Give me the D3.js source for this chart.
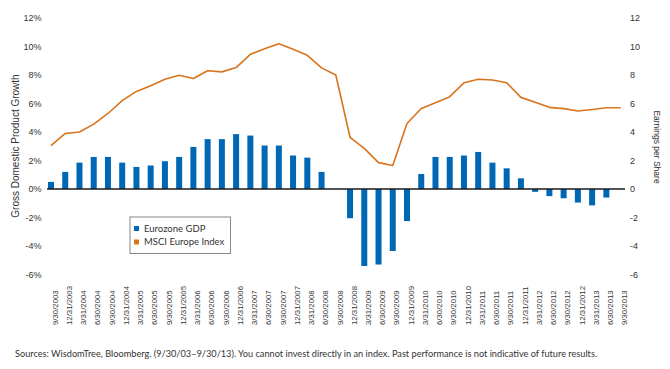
<!DOCTYPE html>
<html>
<head>
<meta charset="utf-8">
<script src="https://cdn.jsdelivr.net/npm/d3@7"></script>
<style>
  body { margin: 0; background: #fff; }
  svg { display: block; }
  text { fill: #333; }
</style>
</head>
<body>
<script>
(function(){

//quarter-end dates along the bottom
var quarters = ["9/30/2003","12/31/2003","3/31/2004","6/30/2004","9/30/2004","12/31/2004",
    "3/31/2005","6/30/2005","9/30/2005","12/31/2005","3/31/2006","6/30/2006","9/30/2006",
    "12/31/2006","3/31/2007","6/30/2007","9/30/2007","12/31/2007","3/31/2008","6/30/2008",
    "9/30/2008","12/31/2008","3/31/2009","6/30/2009","9/30/2009","12/31/2009","3/31/2010",
    "6/30/2010","9/30/2010","12/31/2010","3/31/2011","6/30/2011","9/30/2011","12/31/2011",
    "3/31/2012","6/30/2012","9/30/2012","12/31/2012","3/31/2013","6/30/2013","9/30/2013"];

//eurozone gdp growth, % (null = no bar)
var gdpGrowth = [0.5, 1.2, 1.85, 2.25, 2.25, 1.85, 1.55, 1.65, 1.95, 2.25, 2.95, 3.5, 3.5,
    3.85, 3.75, 3.05, 3.05, 2.35, 2.2, 1.2, null, -2.05, -5.4, -5.3, -4.35, -2.25, 1.05,
    2.25, 2.25, 2.35, 2.6, 1.85, 1.45, 0.75, -0.2, -0.5, -0.65, -0.95, -1.15, -0.6, null];

//msci europe earnings per share
var epsValues = [3.05, 3.9, 4.0, 4.55, 5.3, 6.2, 6.85, 7.25, 7.7, 7.98, 7.75, 8.3, 8.22,
    8.52, 9.45, 9.85, 10.2, 9.8, 9.38, 8.5, 8.0, 3.63, 2.85, 1.85, 1.65, 4.6, 5.65, 6.05,
    6.48, 7.45, 7.7, 7.65, 7.45, 6.43, 6.08, 5.73, 5.64, 5.47, 5.58, 5.7, 5.7];

var leftTicks = [-6, -4, -2, 0, 2, 4, 6, 8, 10, 12];
var rightTicks = [-6, -4, -2, 0, 2, 4, 6, 8, 10, 12];

var legendItems = ["Eurozone GDP", "MSCI Europe Index"];
var sourceNote = "Sources: WisdomTree, Bloomberg. (9/30/03\u20139/30/13). You cannot invest directly in an index. Past performance is not indicative of future results.";

var blue = "#0067b4",
    orange = "#d8741c";

window.onload = drawChart();

function drawChart(){
    var width = 670,
        height = 369;

    var svg = d3.select("body")
        .append("svg")
        .attr("width", width)
        .attr("height", height);

    var x = d3.scalePoint()
        .domain(quarters)
        .range([51, 620.6]);

    var yLeft = d3.scaleLinear()
        .domain([-6, 12])
        .range([274.5, 18]);

    //same extent on the right, so one scale would do, but keep them apart
    var yRight = d3.scaleLinear()
        .domain([-6, 12])
        .range([274.5, 18]);

    //bars
    var barW = 6;
    svg.selectAll(".bar")
        .data(quarters.map(function(q, i){ return {q: q, v: gdpGrowth[i]}; })
            .filter(function(d){ return d.v !== null; }))
        .enter()
        .append("rect")
        .attr("class", "bar")
        .attr("x", function(d){ return x(d.q) - barW / 2; })
        .attr("y", function(d){ return yLeft(Math.max(0, d.v)); })
        .attr("width", barW)
        .attr("height", function(d){ return Math.abs(yLeft(d.v) - yLeft(0)); })
        .attr("fill", blue);

    //zero line
    svg.append("line")
        .attr("x1", 47)
        .attr("x2", 625)
        .attr("y1", yLeft(0))
        .attr("y2", yLeft(0))
        .attr("stroke", "#1a1a1a")
        .attr("stroke-width", 1.5);

    //eps line
    var line = d3.line()
        .x(function(d, i){ return x(quarters[i]); })
        .y(function(d){ return yRight(d); });

    svg.append("path")
        .datum(epsValues)
        .attr("d", line)
        .attr("fill", "none")
        .attr("stroke", orange)
        .attr("stroke-width", 1.6)
        .attr("stroke-linejoin", "round");

    //left axis labels
    svg.selectAll(".ltick")
        .data(leftTicks)
        .enter()
        .append("text")
        .attr("class", "ltick")
        .attr("x", 41.5)
        .attr("y", function(d){ return yLeft(d); })
        .attr("dy", "0.35em")
        .attr("text-anchor", "end")
        .style("font-family", "Liberation Sans, Arial, sans-serif")
        .style("font-size", "9px")
        .text(function(d){ return d + "%"; });

    //right axis labels
    svg.selectAll(".rtick")
        .data(rightTicks)
        .enter()
        .append("text")
        .attr("class", "rtick")
        .attr("x", 630)
        .attr("y", function(d){ return yRight(d); })
        .attr("dy", "0.35em")
        .attr("text-anchor", "start")
        .style("font-family", "Liberation Sans, Arial, sans-serif")
        .style("font-size", "9px")
        .text(function(d){ return d; });

    //axis titles
    svg.append("text")
        .attr("transform", "translate(19,146) rotate(-90)")
        .attr("text-anchor", "middle")
        .style("font-family", "Liberation Sans, Arial, sans-serif")
        .style("font-size", "10px")
        .text("Gross Domestic Product Growth");

    svg.append("text")
        .attr("transform", "translate(654,147) rotate(90)")
        .attr("text-anchor", "middle")
        .style("font-family", "Liberation Sans, Arial, sans-serif")
        .style("font-size", "8.5px")
        .text("Earnings per Share");

    //date labels
    svg.selectAll(".xlabel")
        .data(quarters)
        .enter()
        .append("text")
        .attr("class", "xlabel")
        .attr("transform", function(d){ return "translate(" + (x(d) + 4) + ",325) rotate(-90)"; })
        .attr("dy", "0.35em")
        .attr("text-anchor", "start")
        .style("font-family", "Liberation Sans, Arial, sans-serif")
        .style("font-size", "7.8px")
        .text(function(d){ return d; });

    //legend
    var legend = svg.append("g").attr("transform", "translate(130,217)");
    legend.append("rect")
        .attr("width", 100.5)
        .attr("height", 36.5)
        .attr("fill", "#fff")
        .attr("stroke", "#888")
        .attr("stroke-width", 1);

    var colors = [blue, orange];
    legendItems.forEach(function(name, i){
        legend.append("rect")
            .attr("x", 4)
            .attr("y", 9 + i * 13.5)
            .attr("width", 5)
            .attr("height", 5)
            .attr("fill", colors[i]);
        legend.append("text")
            .attr("x", 14)
            .attr("y", 11.5 + i * 13.5)
            .attr("dy", "0.35em")
            .style("font-family", "Lato, Liberation Sans, sans-serif")
            .style("font-size", "9.5px")
            .text(name);
    });

    //source note
    svg.append("text")
        .attr("x", 15)
        .attr("y", 357)
        .style("font-family", "Lato, Liberation Sans, sans-serif")
        .style("font-size", "9.2px")
        .text(sourceNote);
};

})();
</script>
</body>
</html>
